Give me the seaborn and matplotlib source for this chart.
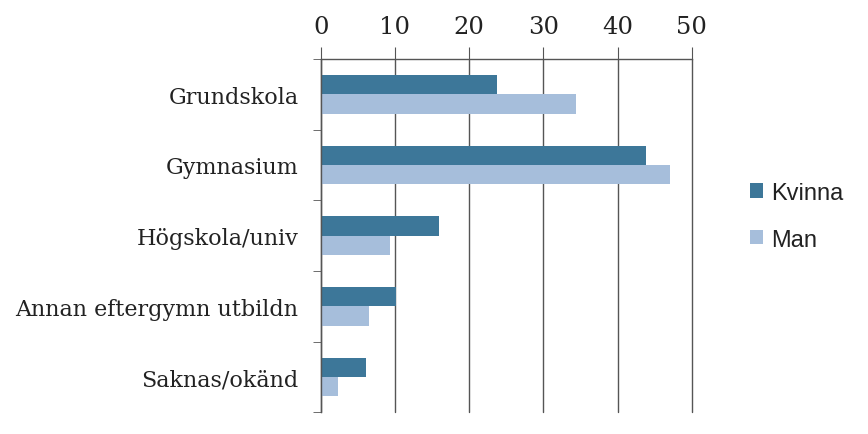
import pandas as pd
import matplotlib.pyplot as plt
import seaborn as sns
from matplotlib.ticker import FixedLocator

# Utbildningsnivå per kön (procent)
categories = ["Grundskola", "Gymnasium", "Högskola/univ", "Annan eftergymn utbildn", "Saknas/okänd"]
kvinna = [23.8, 43.8, 16.0, 10.2, 6.1]
man = [34.4, 47.1, 9.3, 6.5, 2.3]
series = ["Kvinna", "Man"]
colors = ["#3d7799", "#a6bedb"]

df = pd.DataFrame({
    "kategori": categories * 2,
    "varde": kvinna + man,
    "kon": ["Kvinna"] * len(categories) + ["Man"] * len(categories),
})

sns.set_style("white")
fig = plt.figure(figsize=(8.68, 4.35), dpi=100)
ax = fig.add_axes([0.3695, 0.05, 0.4275, 0.812])

sns.barplot(data=df, x="varde", y="kategori", hue="kon", hue_order=series,
            palette=colors, orient="h", width=0.55, saturation=1,
            edgecolor="none", ax=ax)

ax.set_xlim(0, 50)
ax.set_ylim(4.5, -0.5)
ax.set_xticks(range(0, 51, 10))
ax.xaxis.tick_top()
ax.set_xlabel("")
ax.set_ylabel("")
ax.grid(axis="x", color="#555555", linewidth=1.0)
for gl in ax.get_xgridlines():
    gl.set_clip_on(False)
ax.set_axisbelow(True)

for s in ["right", "bottom"]:
    ax.spines[s].set_visible(False)
for s in ["top", "left"]:
    ax.spines[s].set_color("#555555")
    ax.spines[s].set_linewidth(1.0)

ax.tick_params(axis="x", which="major", direction="out", length=9, color="#555555",
               labelsize=17.5, pad=6, top=True, bottom=False)
ax.tick_params(axis="y", which="major", length=0, labelsize=16, pad=16)
ax.yaxis.set_minor_locator(FixedLocator([-0.5, 0.5, 1.5, 2.5, 3.5, 4.5]))
ax.tick_params(axis="y", which="minor", direction="out", length=6, color="#555555", left=True)

for lbl in ax.get_xticklabels() + ax.get_yticklabels():
    lbl.set_family(["DejaVu Serif"])
    lbl.set_color("#222222")

leg = ax.legend(loc="center left", bbox_to_anchor=(1.1, 0.555), frameon=False,
                handlelength=0.55, handleheight=0.55, handletextpad=0.35,
                labelspacing=1.05, prop={"family": "Liberation Sans", "size": 17})
for t in leg.get_texts():
    t.set_color("#222222")

plt.savefig("out.png", dpi=100)
